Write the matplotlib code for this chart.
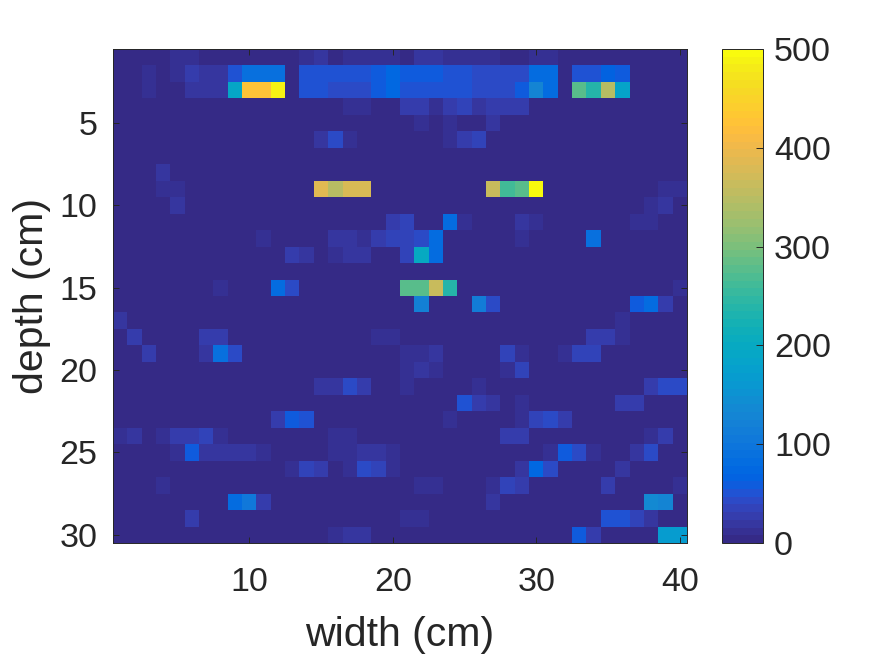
import numpy as np
from matplotlib import pyplot as plt
from matplotlib.colors import ListedColormap

plt.rcParams['font.family'] = ['Liberation Sans', 'DejaVu Sans']

n_depth = 30
n_width = 40
background = 2

# depth row -> {width column: value}, everything else is background
row_values = {
    1: {5: 12, 6: 12, 14: 15, 15: 18, 17: 8, 18: 8, 19: 8, 20: 8, 21: 5, 22: 18, 23: 18, 24: 10, 25: 10, 26: 10, 27: 10, 30: 15, 31: 15},
    2: {3: 10, 5: 12, 6: 25, 7: 20, 8: 20, 9: 50, 10: 88, 11: 88, 12: 88, 13: 5, 14: 52, 15: 52, 16: 52, 17: 52, 18: 52, 19: 58, 20: 72, 21: 55, 22: 55, 23: 60, 24: 52, 25: 52, 26: 46, 27: 44, 28: 42, 29: 42, 30: 85, 31: 85, 33: 52, 34: 52, 35: 68, 36: 56},
    3: {3: 12, 6: 22, 7: 18, 8: 18, 9: 190, 10: 425, 11: 425, 12: 490, 13: 3, 14: 52, 15: 52, 16: 46, 17: 46, 18: 46, 19: 60, 20: 72, 21: 52, 22: 52, 23: 52, 24: 52, 25: 50, 26: 40, 27: 40, 28: 40, 29: 58, 30: 125, 31: 85, 33: 280, 34: 235, 35: 350, 36: 185},
    4: {17: 15, 18: 15, 21: 25, 22: 25, 23: 15, 24: 28, 25: 35, 26: 20, 27: 28, 28: 30, 29: 25},
    5: {22: 12, 24: 15, 27: 22},
    6: {15: 18, 16: 42, 17: 15, 24: 12, 25: 25, 26: 32},
    8: {4: 22},
    9: {4: 10, 5: 14, 15: 385, 16: 345, 17: 380, 18: 380, 27: 360, 28: 265, 29: 275, 30: 500, 39: 15, 40: 15},
    10: {5: 18, 38: 12, 39: 20},
    11: {20: 30, 21: 32, 24: 85, 25: 10, 29: 22, 30: 12, 37: 13, 38: 13},
    12: {11: 15, 16: 20, 17: 20, 18: 15, 19: 30, 20: 33, 21: 38, 22: 45, 23: 80, 29: 12, 34: 90},
    13: {13: 25, 14: 20, 16: 12, 17: 18, 18: 18, 21: 35, 22: 200, 23: 80},
    15: {8: 12, 12: 85, 13: 45, 21: 275, 22: 275, 23: 360, 24: 235, 40: 12},
    16: {22: 120, 26: 115, 27: 45, 37: 58, 38: 85, 39: 28},
    17: {1: 18, 36: 10},
    18: {2: 30, 7: 25, 8: 25, 19: 12, 20: 12, 34: 25, 35: 28, 36: 12},
    19: {3: 30, 7: 20, 8: 90, 9: 42, 21: 8, 22: 15, 23: 18, 28: 38, 29: 10, 32: 10, 33: 35, 34: 33},
    20: {21: 14, 22: 18, 23: 14, 28: 12, 29: 38},
    21: {15: 18, 16: 22, 17: 42, 18: 25, 21: 14, 26: 12, 38: 30, 39: 42, 40: 42},
    22: {25: 48, 26: 28, 27: 18, 29: 12, 36: 25, 37: 25},
    23: {12: 28, 13: 55, 14: 50, 24: 10, 29: 12, 30: 35, 31: 42, 32: 30},
    24: {1: 15, 2: 22, 4: 15, 5: 30, 6: 25, 7: 38, 8: 8, 16: 10, 17: 10, 28: 30, 29: 25, 38: 12, 39: 28},
    25: {5: 10, 6: 55, 7: 22, 8: 22, 9: 22, 10: 22, 11: 15, 16: 10, 17: 10, 18: 22, 19: 22, 20: 15, 31: 15, 32: 58, 33: 45, 34: 8, 37: 20, 38: 40},
    26: {13: 12, 14: 38, 15: 30, 17: 8, 18: 42, 19: 35, 20: 12, 29: 18, 30: 78, 31: 45, 36: 20},
    27: {4: 12, 22: 15, 23: 15, 27: 12, 28: 32, 29: 28, 35: 30, 40: 12},
    28: {9: 80, 10: 105, 11: 30, 27: 22, 38: 140, 39: 130},
    29: {6: 30, 21: 12, 22: 12, 35: 52, 36: 52, 37: 35, 38: 18},
    30: {16: 12, 17: 22, 18: 22, 33: 60, 34: 30, 39: 165, 40: 165},
}

width_ticks = [10, 20, 30, 40]
depth_ticks = [5, 10, 15, 20, 25, 30]
bar_ticks = [0, 100, 200, 300, 400, 500]

# matlab parula, 64 levels
parula = [
    [0.2081, 0.1663, 0.5292], [0.2116, 0.1898, 0.5777], [0.2123, 0.2138, 0.6270], [0.2081, 0.2386, 0.6771],
    [0.1959, 0.2645, 0.7279], [0.1707, 0.2919, 0.7792], [0.1253, 0.3242, 0.8303], [0.0591, 0.3598, 0.8683],
    [0.0117, 0.3875, 0.8820], [0.0060, 0.4086, 0.8828], [0.0165, 0.4266, 0.8786], [0.0329, 0.4430, 0.8720],
    [0.0498, 0.4586, 0.8641], [0.0629, 0.4737, 0.8554], [0.0723, 0.4887, 0.8467], [0.0779, 0.5040, 0.8384],
    [0.0793, 0.5200, 0.8312], [0.0749, 0.5375, 0.8263], [0.0641, 0.5570, 0.8240], [0.0488, 0.5772, 0.8228],
    [0.0343, 0.5966, 0.8199], [0.0265, 0.6137, 0.8135], [0.0239, 0.6287, 0.8038], [0.0231, 0.6418, 0.7913],
    [0.0228, 0.6535, 0.7768], [0.0267, 0.6642, 0.7607], [0.0384, 0.6743, 0.7436], [0.0590, 0.6838, 0.7254],
    [0.0843, 0.6928, 0.7062], [0.1133, 0.7015, 0.6859], [0.1453, 0.7098, 0.6646], [0.1801, 0.7177, 0.6424],
    [0.2178, 0.7250, 0.6193], [0.2586, 0.7317, 0.5954], [0.3022, 0.7376, 0.5712], [0.3482, 0.7424, 0.5473],
    [0.3953, 0.7459, 0.5244], [0.4420, 0.7481, 0.5033], [0.4871, 0.7491, 0.4840], [0.5300, 0.7491, 0.4661],
    [0.5709, 0.7485, 0.4494], [0.6099, 0.7473, 0.4337], [0.6473, 0.7456, 0.4188], [0.6834, 0.7435, 0.4044],
    [0.7184, 0.7411, 0.3905], [0.7525, 0.7384, 0.3768], [0.7858, 0.7356, 0.3633], [0.8185, 0.7327, 0.3498],
    [0.8507, 0.7299, 0.3360], [0.8824, 0.7274, 0.3217], [0.9139, 0.7258, 0.3063], [0.9450, 0.7261, 0.2886],
    [0.9739, 0.7314, 0.2666], [0.9938, 0.7455, 0.2403], [0.9990, 0.7653, 0.2164], [0.9955, 0.7861, 0.1967],
    [0.9880, 0.8066, 0.1794], [0.9789, 0.8271, 0.1633], [0.9697, 0.8481, 0.1475], [0.9626, 0.8705, 0.1309],
    [0.9589, 0.8949, 0.1132], [0.9598, 0.9218, 0.0948], [0.9661, 0.9514, 0.0755], [0.9763, 0.9831, 0.0538],
]

grid = np.full((n_depth, n_width), background, dtype=float)
for r, cols in row_values.items():
    for c, v in cols.items():
        grid[r - 1, c - 1] = v

W, H = 875, 656
dark = '#262626'
fig = plt.figure(figsize=(W / 100, H / 100), dpi=100)


def pix_axes(x0, y0, x1, y1):
    return fig.add_axes([x0 / W, 1 - y1 / H, (x1 - x0) / W, (y1 - y0) / H])


ax = pix_axes(113, 49, 687, 543)
im = ax.imshow(grid, cmap=ListedColormap(parula), vmin=0, vmax=500, aspect='auto',
               interpolation='nearest', extent=[0.5, n_width + 0.5, n_depth + 0.5, 0.5])
ax.set_xticks(width_ticks)
ax.set_yticks(depth_ticks)
ax.tick_params(direction='in', length=4, width=0.7, top=True, right=True, color=dark,
               labelsize=24.5, labelcolor=dark)
ax.tick_params(axis='x', pad=17)
ax.tick_params(axis='y', pad=11)
ax.set_xlabel('width (cm)', fontsize=29.5, color=dark, labelpad=13)
ax.set_ylabel('depth (cm)', fontsize=29.5, color=dark, labelpad=6)
for s in ax.spines.values():
    s.set_linewidth(0.7)
    s.set_color(dark)

cax = pix_axes(722, 49, 763, 543)
cb = fig.colorbar(im, cax=cax, ticks=bar_ticks)
cb.ax.tick_params(direction='in', length=5, width=0.7, color=dark, labelsize=24.5,
                  labelcolor=dark, pad=8)
cb.outline.set_linewidth(0.7)
cb.outline.set_edgecolor(dark)

plt.savefig('out.png', dpi=100)
plt.close()
